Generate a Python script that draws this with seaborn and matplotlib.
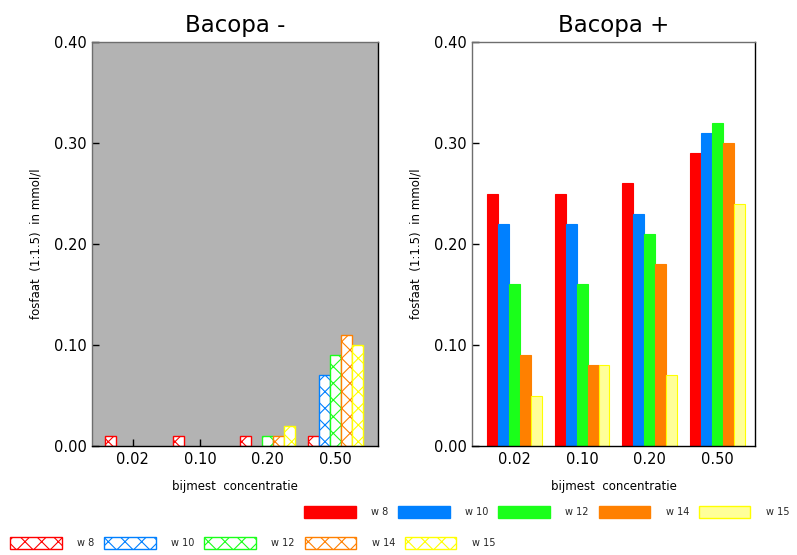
import matplotlib
matplotlib.use("Agg")
import matplotlib.pyplot as plt
import seaborn as sns
import pandas as pd
from matplotlib.patches import Patch

categories = ["0.02", "0.10", "0.20", "0.50"]
weeks = ["w 8", "w 10", "w 12", "w 14", "w 15"]
minus_w8 = [0.01, 0.01, 0.01, 0.01]
minus_w10 = [0.0, 0.0, 0.0, 0.07]
minus_w12 = [0.0, 0.0, 0.01, 0.09]
minus_w14 = [0.0, 0.0, 0.01, 0.11]
minus_w15 = [0.0, 0.0, 0.02, 0.10]
plus_w8 = [0.25, 0.25, 0.26, 0.29]
plus_w10 = [0.22, 0.22, 0.23, 0.31]
plus_w12 = [0.16, 0.16, 0.21, 0.32]
plus_w14 = [0.09, 0.08, 0.18, 0.30]
plus_w15 = [0.05, 0.08, 0.07, 0.24]
yticks = [0.0, 0.1, 0.2, 0.3, 0.4]
ytick_labels = ["0.00", "0.10", "0.20", "0.30", "0.40"]

face_colors = ["#ff0000", "#0080ff", "#1aff1a", "#ff8000", "#ffff99"]
edge_colors = ["#ff0000", "#0080ff", "#1aff1a", "#ff8000", "#ffff00"]

def make_df(series):
    rows = []
    for w, vals in zip(weeks, series):
        for c, v in zip(categories, vals):
            rows.append({"conc": c, "week": w, "val": v})
    return pd.DataFrame(rows)

df_minus = make_df([minus_w8, minus_w10, minus_w12, minus_w14, minus_w15])
df_plus = make_df([plus_w8, plus_w10, plus_w12, plus_w14, plus_w15])

sns.set_style("ticks")
plt.rcParams["font.family"] = ["DejaVu Sans"]
plt.rcParams["hatch.linewidth"] = 0.8

fig = plt.figure(figsize=(7.97, 5.55), dpi=100)
ax1 = fig.add_axes([92/797, 1-446/555, 286/797, 404/555])
ax2 = fig.add_axes([472/797, 1-446/555, 283/797, 404/555])

sns.barplot(data=df_minus, x="conc", y="val", hue="week", order=categories,
            hue_order=weeks, palette=edge_colors, ax=ax1, width=0.81,
            legend=False, saturation=1)
sns.barplot(data=df_plus, x="conc", y="val", hue="week", order=categories,
            hue_order=weeks, palette=face_colors, ax=ax2, width=0.81,
            legend=False, saturation=1)

for i, cont in enumerate(ax1.containers):
    for p in cont:
        p.set_facecolor("white")
        p.set_edgecolor(edge_colors[i])
        p.set_hatch("xx")
        p.set_linewidth(1.0)
        if p.get_height() == 0:
            p.set_visible(False)
for i, cont in enumerate(ax2.containers):
    for p in cont:
        p.set_facecolor(face_colors[i])
        p.set_edgecolor(edge_colors[i])
        p.set_linewidth(0.8)

ax1.set_facecolor("#b3b3b3")
ax2.set_facecolor("white")

for ax, title, xlim in [(ax1, "Bacopa -", (-0.6, 3.63)), (ax2, "Bacopa +", (-0.63, 3.56))]:
    ax.set_ylim(0, 0.4)
    ax.set_xlim(*xlim)
    ax.set_yticks(yticks)
    ax.set_yticklabels(ytick_labels)
    ax.tick_params(direction="in", length=5, labelsize=10.5, colors="black", width=1, pad=4)
    ax.set_title(title, fontsize=16.5, pad=7, color="black")
    ax.set_xlabel("bijmest  concentratie", fontsize=8.5, labelpad=10, color="black")
    ax.set_ylabel("fosfaat  (1:1.5)  in mmol/l", fontsize=8.5, labelpad=8, color="black")
    for name, s in ax.spines.items():
        s.set_visible(True)
        s.set_linewidth(1)
        s.set_color("black" if name in ("bottom", "right") else "#6e6e6e")

fill_handles = [Patch(facecolor=face_colors[i], edgecolor=edge_colors[i], label=weeks[i]) for i in range(5)]
hatch_handles = [Patch(facecolor="white", edgecolor=edge_colors[i], hatch="xx", label=weeks[i]) for i in range(5)]

leg_kw = dict(ncol=5, frameon=False, fontsize=7, handlelength=5.3, handleheight=1.4,
              handletextpad=1.6, columnspacing=1.0, borderaxespad=0, borderpad=0)
fig.legend(handles=fill_handles, loc="center left", bbox_to_anchor=(304/797, 1-512/555), **leg_kw)
fig.legend(handles=hatch_handles, loc="center left", bbox_to_anchor=(10/797, 1-543/555), **leg_kw)

fig.savefig("out.png", dpi=100)
